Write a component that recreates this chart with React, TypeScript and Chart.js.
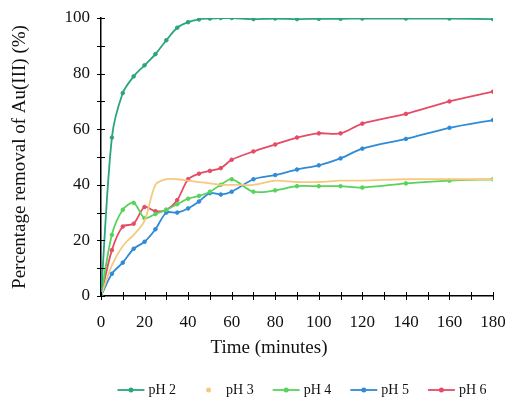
import { useEffect, useRef } from "react";
import { Chart, registerables } from "chart.js";

Chart.register(...registerables);

// Contact time (minutes)
const times = [0, 5, 10, 15, 20, 25, 30, 35, 40, 45, 50, 55, 60, 70, 80, 90, 100, 110, 120, 140, 160, 180];

// Percentage removal of Au(III) at each pH
const pH2 = [0, 57, 73, 79, 83, 87, 92, 96.5, 98.5, 99.5, 99.8, 100, 100, 99.6, 99.8, 99.6, 99.7, 99.7, 99.8, 99.8, 99.8, 99.6];
const pH3 = [0, 11, 18, 22, 27, 40, 42, 42, 41.5, 41, 40.5, 40, 40, 40, 41.5, 41, 41, 41.5, 41.5, 42, 42, 42];
const pH4 = [0, 22, 31, 33.5, 28, 29.5, 31, 33, 35, 36, 37.5, 40, 42, 37.5, 38, 39.5, 39.5, 39.5, 39, 40.5, 41.5, 42];
const pH5 = [0, 8, 12, 17, 19.5, 24, 30, 30, 31.5, 34, 37, 36.5, 37.5, 42, 43.5, 45.5, 47, 49.5, 53, 56.5, 60.5, 63.3];
const pH6 = [0, 16.5, 25, 26, 32, 30.5, 31, 34.5, 42, 44, 45, 46, 49, 52, 54.5, 57, 58.5, 58.5, 62, 65.5, 70, 73.5];

const seriesLabels = ["pH 2", "pH 3", "pH 4", "pH 5", "pH 6"];
const seriesValues = [pH2, pH3, pH4, pH5, pH6];
const seriesColors = ["#2ba57f", "#f7c97e", "#58d35a", "#2f8bd6", "#e64b66"];

const xTitle = "Time (minutes)";
const yTitle = "Percentage removal of Au(III) (%)";

const FONT = '"Liberation Serif", "Times New Roman", serif';

// Tick marks that cross the axis lines, every 10 units
const crossTicks = {
  id: "crossTicks",
  afterDraw(chart: any) {
    const { ctx, chartArea, scales } = chart;
    ctx.save();
    ctx.strokeStyle = "#000";
    ctx.lineWidth = 1;
    for (const t of scales.y.ticks) {
      const py = Math.round(scales.y.getPixelForValue(t.value)) + 0.5;
      ctx.beginPath();
      ctx.moveTo(chartArea.left - 4, py);
      ctx.lineTo(chartArea.left + 4, py);
      ctx.stroke();
    }
    for (const t of scales.x.ticks) {
      const px = Math.round(scales.x.getPixelForValue(t.value)) + 0.5;
      ctx.beginPath();
      ctx.moveTo(px, chartArea.bottom - 4);
      ctx.lineTo(px, chartArea.bottom + 4);
      ctx.stroke();
    }
    ctx.restore();
  },
};

// X axis title, sitting a little left of the plot centre
const xAxisTitle = {
  id: "xAxisTitle",
  afterDraw(chart: any) {
    const { ctx, chartArea } = chart;
    ctx.save();
    ctx.font = `19px ${FONT}`;
    ctx.fillStyle = "#111";
    ctx.textAlign = "center";
    ctx.textBaseline = "middle";
    ctx.fillText(xTitle, (chartArea.left + chartArea.right) / 2 - 28, chartArea.bottom + 52);
    ctx.restore();
  },
};

// Legend row below the axis title: line + marker, then series name
const legendRow = {
  id: "legendRow",
  afterDraw(chart: any) {
    const { ctx, chartArea } = chart;
    const lineLen = 27;
    const gapText = 4;
    const gapItem = 19;
    ctx.save();
    ctx.font = `14px ${FONT}`;
    const widths = seriesLabels.map((s) => ctx.measureText(s).width);
    const total =
      widths.reduce((a, w) => a + lineLen + gapText + w, 0) + gapItem * (seriesLabels.length - 1);
    const cx = (chartArea.left + chartArea.right) / 2 + 5;
    let x = cx - total / 2;
    const y = 390;
    seriesLabels.forEach((label, i) => {
      const c = seriesColors[i];
      ctx.strokeStyle = c;
      ctx.lineWidth = 1.8;
      if (i !== 1) {
        ctx.beginPath();
        ctx.moveTo(x, y);
        ctx.lineTo(x + lineLen, y);
        ctx.stroke();
      }
      ctx.fillStyle = c;
      ctx.beginPath();
      ctx.arc(x + lineLen / 2, y, 2.5, 0, Math.PI * 2);
      ctx.fill();
      ctx.fillStyle = "#111";
      ctx.textBaseline = "middle";
      ctx.textAlign = "left";
      ctx.fillText(label, x + lineLen + gapText, y);
      x += lineLen + gapText + widths[i] + gapItem;
    });
    ctx.restore();
  },
};

export default function App() {
  const canvasRef = useRef<HTMLCanvasElement | null>(null);

  useEffect(() => {
    const canvas = canvasRef.current;
    if (!canvas) return;
    const chart = new Chart(canvas, {
      type: "line",
      data: {
        datasets: seriesLabels.map((label, i) => ({
          label,
          data: times.map((t, k) => ({ x: t, y: seriesValues[i][k] })),
          borderColor: seriesColors[i],
          backgroundColor: seriesColors[i],
          borderWidth: 1.8,
          pointRadius: i === 1 ? 0 : 1.8,
          pointBorderWidth: 1,
          pointBorderColor: seriesColors[i],
          pointBackgroundColor: seriesColors[i],
          tension: 0.3,
          fill: false,
        })),
      },
      options: {
        animation: false,
        responsive: false,
        maintainAspectRatio: false,
        layout: { padding: { top: 18, left: 9, right: 12, bottom: 44 } },
        plugins: {
          legend: { display: false },
          tooltip: { enabled: false },
        },
        scales: {
          x: {
            type: "linear",
            min: 0,
            max: 180,
            afterFit: (s: any) => {
              s.height = 61;
              s.paddingLeft = 0;
              s.paddingRight = 0;
            },
            border: { display: true, color: "#000", width: 1.5 },
            grid: { drawOnChartArea: false, drawTicks: false },
            ticks: {
              stepSize: 10,
              padding: 16,
              color: "#111",
              font: { family: FONT, size: 17 },
              callback: (v: any) => (Number(v) % 20 === 0 ? String(v) : ""),
              maxRotation: 0,
              autoSkip: false,
            },
            title: { display: false },
          },
          y: {
            min: 0,
            max: 100,
            afterFit: (s: any) => {
              s.width = 92;
              s.paddingTop = 0;
              s.paddingBottom = 0;
            },
            border: { display: true, color: "#000", width: 1.5 },
            grid: { drawOnChartArea: false, drawTicks: false },
            ticks: {
              stepSize: 10,
              padding: 11,
              color: "#111",
              font: { family: FONT, size: 17 },
              callback: (v: any) => (Number(v) % 20 === 0 ? String(v) : ""),
              autoSkip: false,
            },
            title: {
              display: true,
              text: yTitle,
              color: "#111",
              padding: 0,
              font: { family: FONT, size: 19 },
            },
          },
        },
      },
      plugins: [crossTicks, xAxisTitle, legendRow],
    });
    return () => chart.destroy();
  }, []);

  return (
    <div style={{ position: "absolute", left: 0, top: 0, width: 505, height: 401, background: "#fff" }}>
      <canvas ref={canvasRef} width={505} height={401} style={{ display: "block", width: 505, height: 401 }} />
    </div>
  );
}
